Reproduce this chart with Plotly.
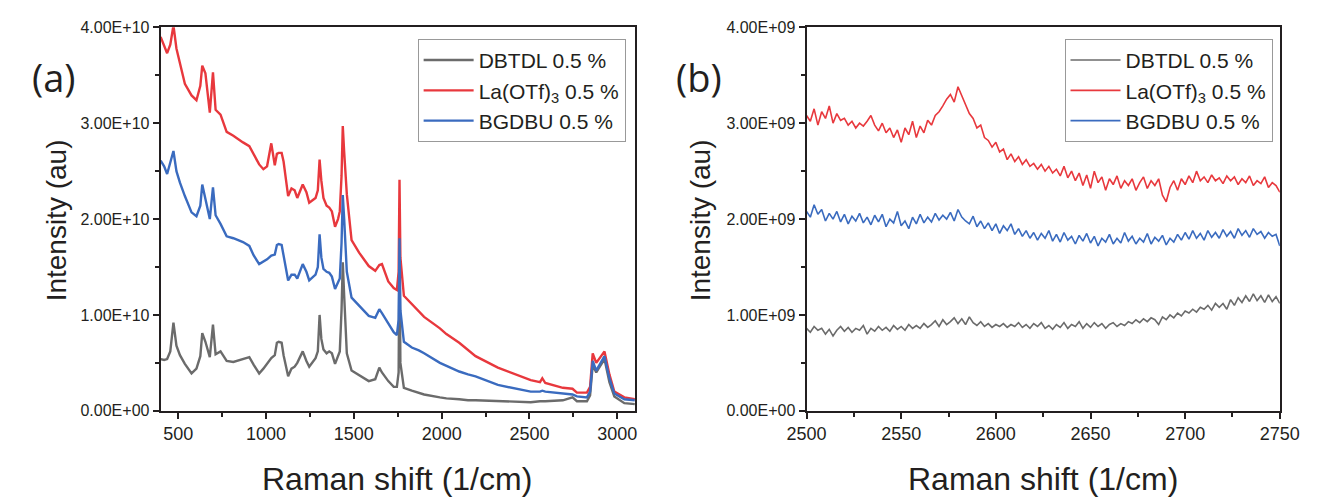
import plotly.graph_objects as go

# ---------------- data: panel (a), full spectra (values in units of 1e10) ----------------
x_full = [400, 420, 437, 455, 473, 490, 510, 538, 576, 604, 626, 637, 655, 680, 698, 713, 741, 776, 814, 851,
          869, 905, 930, 961, 985, 1006, 1030, 1050, 1062, 1072, 1089, 1100, 1126, 1145, 1163, 1178, 1209, 1230,
          1246, 1282, 1295, 1305, 1315, 1327, 1345, 1360, 1375, 1393, 1410, 1420, 1430, 1437, 1445, 1460, 1487,
          1530, 1585, 1622, 1645, 1660, 1696, 1727, 1745, 1755, 1760, 1765, 1785, 1830, 1870, 1900, 1990, 2027,
          2100, 2150, 2193, 2320, 2507, 2560, 2573, 2590, 2690, 2745, 2770, 2827, 2845, 2860, 2880, 2927, 2955,
          2983, 3040, 3100]

dbtdl_full = [0.54, 0.53, 0.54, 0.62, 0.92, 0.68, 0.58, 0.49, 0.39, 0.44, 0.57, 0.81, 0.72, 0.56, 0.90, 0.59, 0.62,
              0.52, 0.51, 0.53, 0.54, 0.56, 0.48, 0.39, 0.44, 0.49, 0.55, 0.58, 0.71, 0.72, 0.71, 0.58, 0.36, 0.44,
              0.46, 0.50, 0.62, 0.52, 0.46, 0.55, 0.62, 1.00, 0.75, 0.64, 0.60, 0.62, 0.60, 0.49, 0.58, 0.62, 1.05,
              1.55, 1.20, 0.60, 0.42, 0.37, 0.31, 0.33, 0.45, 0.40, 0.31, 0.25, 0.25, 0.40, 1.75, 0.50, 0.24, 0.21,
              0.19, 0.17, 0.14, 0.13, 0.12, 0.11, 0.11, 0.10, 0.09, 0.10, 0.10, 0.10, 0.11, 0.14, 0.10, 0.10, 0.16,
              0.48, 0.40, 0.54, 0.30, 0.15, 0.08, 0.07]

la_full = [3.90, 3.80, 3.73, 3.82, 4.02, 3.78, 3.62, 3.41, 3.29, 3.24, 3.39, 3.60, 3.52, 3.11, 3.53, 3.14, 3.09,
           2.91, 2.87, 2.82, 2.80, 2.76, 2.68, 2.57, 2.52, 2.55, 2.79, 2.56, 2.68, 2.69, 2.69, 2.60, 2.24, 2.32,
           2.30, 2.22, 2.36, 2.28, 2.17, 2.22, 2.30, 2.62, 2.40, 2.22, 2.14, 2.12, 2.08, 1.92, 2.00, 2.08, 2.45,
           2.97, 2.70, 2.26, 1.78, 1.65, 1.51, 1.46, 1.52, 1.53, 1.35, 1.28, 1.26, 1.45, 2.41, 1.60, 1.20, 1.11,
           1.03, 0.98, 0.86, 0.80, 0.71, 0.63, 0.57, 0.45, 0.32, 0.30, 0.34, 0.29, 0.24, 0.23, 0.19, 0.19, 0.25,
           0.60, 0.50, 0.62, 0.38, 0.20, 0.14, 0.12]

bgdbu_full = [2.61, 2.55, 2.47, 2.58, 2.71, 2.50, 2.38, 2.24, 2.07, 2.03, 2.14, 2.36, 2.20, 2.00, 2.33, 2.04, 1.95,
              1.82, 1.80, 1.77, 1.76, 1.72, 1.62, 1.53, 1.56, 1.58, 1.62, 1.63, 1.73, 1.74, 1.73, 1.62, 1.36, 1.42,
              1.42, 1.38, 1.53, 1.45, 1.36, 1.42, 1.50, 1.84, 1.60, 1.48, 1.45, 1.44, 1.40, 1.27, 1.33, 1.38, 1.75,
              2.25, 2.00, 1.45, 1.18, 1.10, 0.99, 0.97, 1.06, 1.02, 0.92, 0.82, 0.79, 0.95, 1.80, 1.05, 0.72, 0.66,
              0.63, 0.60, 0.50, 0.47, 0.41, 0.38, 0.36, 0.27, 0.20, 0.20, 0.21, 0.20, 0.18, 0.17, 0.15, 0.14, 0.20,
              0.52, 0.42, 0.57, 0.34, 0.18, 0.12, 0.11]

# ---------------- data: panel (b), zoom 2500-2750 (values in units of 1e9) ----------------
x_zoom = list(range(2500, 2751, 2))

la_zoom = [3.08, 3.02, 3.15, 2.98, 3.12, 3.05, 3.18, 3.00, 3.10, 3.03, 3.05, 2.98, 3.02, 2.95, 3.00, 2.97, 3.02,
           3.08, 2.98, 2.92, 3.00, 2.90, 2.95, 2.85, 2.93, 2.80, 2.95, 2.88, 3.02, 2.85, 2.97, 2.90, 3.03, 2.98,
           3.08, 3.12, 3.18, 3.25, 3.30, 3.22, 3.38, 3.28, 3.20, 3.10, 3.05, 2.95, 2.98, 2.85, 2.82, 2.75, 2.80,
           2.70, 2.73, 2.62, 2.68, 2.60, 2.65, 2.57, 2.62, 2.55, 2.58, 2.52, 2.57, 2.50, 2.55, 2.48, 2.52, 2.45,
           2.55, 2.43, 2.50, 2.40, 2.48, 2.35, 2.46, 2.32, 2.50, 2.38, 2.44, 2.30, 2.42, 2.36, 2.45, 2.32, 2.40,
           2.35, 2.42, 2.30, 2.38, 2.44, 2.32, 2.40, 2.35, 2.42, 2.25, 2.18, 2.33, 2.40, 2.30, 2.42, 2.36, 2.45,
           2.38, 2.50, 2.40, 2.44, 2.38, 2.46, 2.40, 2.43, 2.37, 2.45, 2.40, 2.44, 2.36, 2.42, 2.38, 2.45, 2.35,
           2.40, 2.37, 2.44, 2.33, 2.38, 2.35, 2.28]

bgdbu_zoom = [2.08, 2.02, 2.15, 2.05, 2.10, 1.98, 2.06, 2.00, 2.08, 1.97, 2.05, 1.95, 2.03, 1.98, 2.06, 1.96, 2.02,
              1.94, 2.04, 1.97, 2.05, 1.92, 2.00, 1.96, 2.08, 1.93, 1.98, 1.90, 2.02, 1.95, 2.05, 1.96, 2.02, 1.97,
              2.06, 1.99, 2.04, 2.00, 2.07, 1.98, 2.10, 2.02, 1.98, 1.95, 2.03, 1.92, 1.98, 1.90, 1.96, 1.88, 1.95,
              1.85, 1.93, 1.88, 1.95, 1.84, 1.90, 1.82, 1.88, 1.80, 1.86, 1.78, 1.85, 1.80, 1.88, 1.77, 1.84, 1.76,
              1.86, 1.78, 1.82, 1.74, 1.83, 1.77, 1.85, 1.75, 1.82, 1.72, 1.80, 1.76, 1.84, 1.74, 1.80, 1.75, 1.86,
              1.77, 1.82, 1.74, 1.80, 1.76, 1.85, 1.74, 1.81, 1.77, 1.83, 1.73, 1.80, 1.76, 1.84, 1.78, 1.86, 1.79,
              1.88, 1.80, 1.85, 1.78, 1.88, 1.81, 1.86, 1.80, 1.89, 1.82, 1.87, 1.80, 1.90, 1.83, 1.88, 1.81, 1.90,
              1.84, 1.87, 1.80, 1.86, 1.82, 1.84, 1.72]

dbtdl_zoom = [0.86, 0.82, 0.88, 0.84, 0.86, 0.80, 0.85, 0.78, 0.84, 0.88, 0.83, 0.87, 0.82, 0.86, 0.84, 0.89, 0.80,
              0.86, 0.83, 0.88, 0.84, 0.87, 0.83, 0.89, 0.85, 0.88, 0.84, 0.90, 0.86, 0.89, 0.86, 0.91, 0.87, 0.90,
              0.94, 0.88, 0.95, 0.90, 0.93, 0.97, 0.91, 0.96, 0.90, 0.98, 0.92, 0.89, 0.93, 0.88, 0.91, 0.87, 0.90,
              0.88, 0.91, 0.87, 0.90, 0.88, 0.92, 0.87, 0.90, 0.86, 0.91, 0.88, 0.92, 0.86, 0.89, 0.85, 0.90, 0.87,
              0.92, 0.86, 0.90, 0.88, 0.93, 0.86, 0.91, 0.87, 0.92, 0.88, 0.91, 0.86, 0.90, 0.92, 0.88, 0.91, 0.89,
              0.93, 0.91, 0.95, 0.92, 0.96, 0.93, 0.97, 0.95, 0.90, 0.98, 0.95, 1.00, 0.97, 1.02, 0.99, 1.04, 1.02,
              1.06, 1.03, 1.08, 1.06, 1.10, 1.05, 1.12, 1.08, 1.12, 1.06, 1.16, 1.10, 1.18, 1.13, 1.20, 1.14, 1.22,
              1.15, 1.20, 1.13, 1.21, 1.14, 1.19, 1.12]

series_names = ["DBTDL 0.5 %", "La(OTf)<sub>3</sub> 0.5 %", "BGDBU 0.5 %"]
series_colors = ["#6b6b6b", "#e8383d", "#3a6bbf"]

# tick labels
xa_ticks = [500, 1000, 1500, 2000, 2500, 3000]
xa_minor = [750, 1250, 1750, 2250, 2750]
ya_ticks = [0, 1e10, 2e10, 3e10, 4e10]
ya_text = ["0.00E+00", "1.00E+10", "2.00E+10", "3.00E+10", "4.00E+10"]
ya_minor = [0.5e10, 1.5e10, 2.5e10, 3.5e10]
xb_ticks = [2500, 2550, 2600, 2650, 2700, 2750]
xb_minor = [2525, 2575, 2625, 2675, 2725]
yb_ticks = [0, 1e9, 2e9, 3e9, 4e9]
yb_text = ["0.00E+00", "1.00E+09", "2.00E+09", "3.00E+09", "4.00E+09"]
yb_minor = [0.5e9, 1.5e9, 2.5e9, 3.5e9]

W, H = 1326, 500
fig = go.Figure()

full_sets = [dbtdl_full, la_full, bgdbu_full]
zoom_sets = [dbtdl_zoom, la_zoom, bgdbu_zoom]
for name, col, ys in zip(series_names, series_colors, full_sets):
    fig.add_trace(go.Scatter(x=x_full, y=[v * 1e10 for v in ys], mode="lines", name=name,
                             line=dict(color=col, width=2.4), xaxis="x", yaxis="y", legend="legend"))
for name, col, ys in zip(series_names, series_colors, zoom_sets):
    fig.add_trace(go.Scatter(x=x_zoom, y=[v * 1e9 for v in ys], mode="lines", name=name,
                             line=dict(color=col, width=1.6), xaxis="x2", yaxis="y2", legend="legend2"))

FONT = "Arial"
TXT = "#231f20"

def xaxis(domain, anchor, rng, ticks, minor):
    return dict(domain=domain, anchor=anchor, range=rng, tickmode="array", tickvals=ticks,
                ticks="outside", ticklen=6, tickwidth=1.5, tickcolor="#231f20",
                minor=dict(tickmode="array", tickvals=minor, ticks="outside", ticklen=4, tickwidth=1.5,
                           tickcolor="#231f20", showgrid=False),
                showline=True, linecolor="#231f20", linewidth=2, mirror=True, showgrid=False, zeroline=False,
                tickfont=dict(family=FONT, size=18, color=TXT))

def yaxis(domain, anchor, rng, ticks, text, minor):
    return dict(domain=domain, anchor=anchor, range=rng, tickmode="array", tickvals=ticks, ticktext=text,
                ticks="outside", ticklen=6, tickwidth=1.5, tickcolor="#231f20",
                minor=dict(tickmode="array", tickvals=minor, ticks="outside", ticklen=4, tickwidth=1.5,
                           tickcolor="#231f20", showgrid=False),
                showline=True, linecolor="#231f20", linewidth=2, mirror=True, showgrid=False, zeroline=False,
                tickfont=dict(family=FONT, size=16, color=TXT))

ydom = [1 - 417 / H, 1 - 20 / H]
legend_common = dict(xanchor="left", yanchor="top", bgcolor="white", bordercolor="#999999", borderwidth=1,
                     font=dict(family=FONT, size=21, color=TXT), itemwidth=50, tracegroupgap=0)

fig.update_layout(
    width=W, height=H, margin=dict(l=0, r=0, t=0, b=0),
    paper_bgcolor="white", plot_bgcolor="white", showlegend=True,
    xaxis=xaxis([145 / W, 634 / W], "y", [400, 3100], xa_ticks, xa_minor),
    yaxis=yaxis(ydom, "x", [0, 4e10], ya_ticks, ya_text, ya_minor),
    xaxis2=xaxis([811 / W, 1299 / W], "y2", [2500, 2750], xb_ticks, xb_minor),
    yaxis2=yaxis(ydom, "x2", [0, 4e9], yb_ticks, yb_text, yb_minor),
    legend=dict(x=410 / W, y=1 - 32 / H, **legend_common),
    legend2=dict(x=1077 / W, y=1 - 32 / H, **legend_common),
)

annots = [
    dict(text="(a)", x=35 / W, y=1 - 71 / H, font=dict(family="Open Sans", size=38, color=TXT)),
    dict(text="(b)", x=700 / W, y=1 - 71 / H, font=dict(family="Open Sans", size=38, color=TXT)),
    dict(text="Intensity (au)", x=38 / W, y=1 - 220 / H, textangle=-90, font=dict(family=FONT, size=28, color=TXT)),
    dict(text="Intensity (au)", x=702 / W, y=1 - 220 / H, textangle=-90, font=dict(family=FONT, size=28, color=TXT)),
    dict(text="Raman shift (1/cm)", x=389 / W, y=1 - 488 / H, font=dict(family=FONT, size=32, color=TXT)),
    dict(text="Raman shift (1/cm)", x=1055 / W, y=1 - 488 / H, font=dict(family=FONT, size=32, color=TXT)),
]
for a in annots:
    fig.add_annotation(xref="paper", yref="paper", xanchor="center", yanchor="middle", showarrow=False, **a)

fig.write_html("out.html")
